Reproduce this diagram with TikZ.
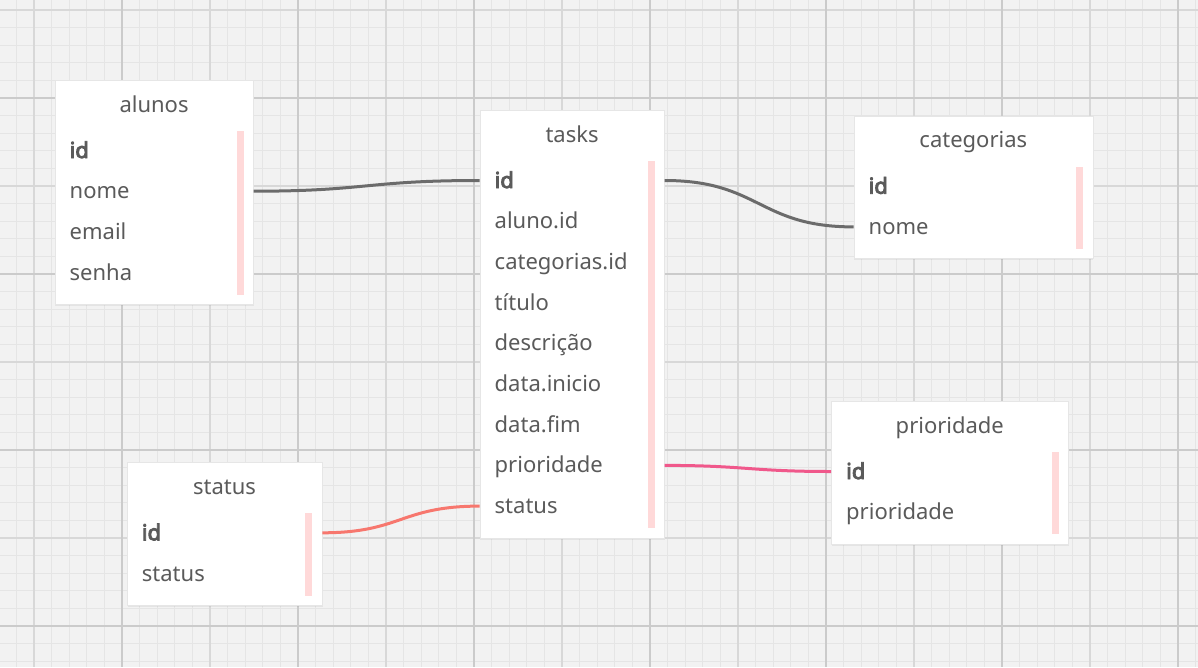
\documentclass[tikz,border=0pt]{standalone}
\usepackage{fontspec}
\setmainfont{Noto Sans}[AutoFakeBold=4]
\usetikzlibrary{shadows}
\definecolor{bgcol}{HTML}{F2F2F2}
\definecolor{gridminor}{HTML}{E5E5E5}
\definecolor{gridmed}{HTML}{D8D8D8}
\definecolor{gridmajor}{HTML}{CBCBCB}
\definecolor{txtcol}{HTML}{5A5A5A}
\definecolor{boxline}{HTML}{E6E6E6}
\definecolor{barcol}{HTML}{FFD9D9}
\definecolor{lgray}{HTML}{6B6B6B}
\definecolor{lpink}{HTML}{F0588B}
\definecolor{lsalmon}{HTML}{F7776E}
\tikzset{
  gminor/.style={draw=gridminor, line width=1.3pt},
  gmed/.style={draw=gridmed, line width=1.6pt},
  gmajor/.style={draw=gridmajor, line width=1.8pt},
  tablebox/.style={fill=white, draw=boxline, line width=0.6pt, inner sep=0pt,
    drop shadow={opacity=0.12, shadow xshift=0.6pt, shadow yshift=-1.6pt}},
  titletext/.style={font=\fontsize{22}{26}\selectfont, text=txtcol, inner sep=0pt},
  rowtext/.style={font=\fontsize{22}{26}\selectfont, text=txtcol, inner sep=0pt,
    text height=15pt, text depth=0pt},
  keybar/.style={fill=barcol},
  conn/.style={line width=3pt},
  conngray/.style={conn, draw=lgray},
  connpink/.style={conn, draw=lpink},
  connsalmon/.style={conn, draw=lsalmon}
}
% #1 name, #2 left, #3 top, #4 width, #5 number of rows, #6 title, #7 rows
\newcommand{\ertable}[7]{%
  \pgfmathsetmacro\erh{102+(#5-1)*40.7}
  \node[tablebox, anchor=north west, minimum width=#4pt, minimum height=\erh pt] (#1) at (#2,#3) {};
  \node[titletext, anchor=base] (#1-title) at ([yshift=-32pt]#1.north) {#6};
  \fill[keybar] ([xshift=-10pt,yshift=-51pt]#1.north east) rectangle ([xshift=-17pt,yshift=10pt]#1.south east);
  \foreach \r [count=\k] in {#7} {
    \pgfmathsetmacro\ery{-70.5-(\k-1)*40.7}
    \node[rowtext, anchor=west] (#1-\k) at ([xshift=15pt,yshift=\ery pt]#1.north west) {\r};
  }
}
\begin{document}
\begin{tikzpicture}[x=1pt,y=-1pt]
\useasboundingbox (0,0) rectangle (1198,667);
\fill[bgcol] (0,0) rectangle (1198,667);
\begin{scope}
\clip (0,0) rectangle (1198,667);
\foreach \i in {-2,...,67} \draw[gminor] ({34+17.6*\i},0) -- ({34+17.6*\i},667);
\foreach \j in {-1,...,37} \draw[gminor] (0,{10+17.6*\j}) -- (1198,{10+17.6*\j});
\foreach \i in {0,10,...,60} \draw[gmed] ({34+17.6*\i},0) -- ({34+17.6*\i},667);
\foreach \j in {0,10,20,30} \draw[gmed] (0,{10+17.6*\j}) -- (1198,{10+17.6*\j});
\foreach \i in {5,15,...,65} \draw[gmajor] ({34+17.6*\i},0) -- ({34+17.6*\i},667);
\foreach \j in {5,15,25,35} \draw[gmajor] (0,{10+17.6*\j}) -- (1198,{10+17.6*\j});
\end{scope}

\ertable{alunos}{54.5}{80}{198.5}{4}{alunos}{\textbf{id},nome,email,senha}
\ertable{tasks}{479.5}{110}{184.5}{9}{tasks}{\textbf{id},aluno.id,categorias.id,título,descrição,data.inicio,data.fim,prioridade,status}
\ertable{categorias}{853.5}{115.7}{239}{2}{categorias}{\textbf{id},nome}
\ertable{prioridade}{831}{401}{237}{2}{prioridade}{\textbf{id},prioridade}
\ertable{status}{126.7}{462.3}{195}{2}{status}{\textbf{id},status}

\draw[conngray] (alunos.east |- alunos-2) .. controls +(113,0) and +(-113,0) .. (tasks.west |- tasks-1);
\draw[conngray] (tasks.east |- tasks-1) .. controls +(95,0) and +(-95,0) .. (categorias.west |- categorias-2);
\draw[connpink] (tasks.east |- tasks-8) .. controls +(80,0) and +(-80,0) .. (prioridade.west |- prioridade-1);
\draw[connsalmon] (status.east |- status-1) .. controls +(79,0) and +(-79,0) .. (tasks.west |- tasks-9);
\end{tikzpicture}
\end{document}
